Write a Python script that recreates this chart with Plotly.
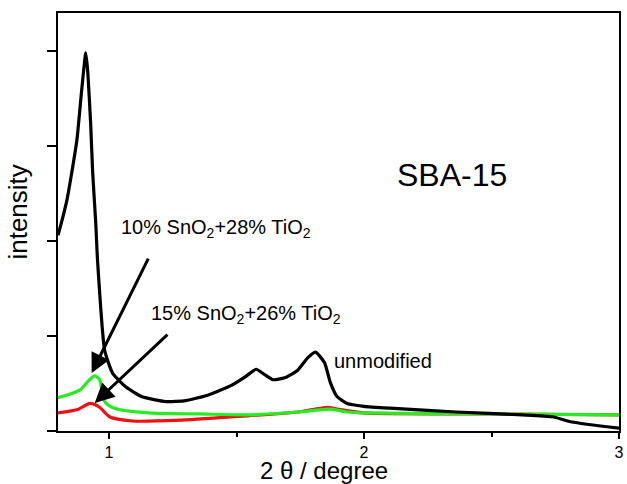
import plotly.graph_objects as go

# 2-theta (degree) and intensity (a.u.)
unmod_x = [0.800, 0.816, 0.835, 0.854, 0.874, 0.893, 0.909, 0.917, 0.928, 0.936,
           0.948, 0.955, 0.983, 1.014, 1.068, 1.130, 1.223, 1.301, 1.390, 1.480,
           1.534, 1.577, 1.612, 1.643, 1.689, 1.740, 1.779, 1.810, 1.845, 1.868,
           1.895, 1.934, 2.000, 2.101, 2.361, 2.621, 2.738, 2.815, 3.000]
unmod_y = [2.06, 2.22, 2.43, 2.72, 3.06, 3.59, 3.98, 3.77, 3.24, 2.72,
           2.19, 1.80, 0.85, 0.61, 0.46, 0.36, 0.31, 0.32, 0.38, 0.48,
           0.57, 0.65, 0.59, 0.54, 0.56, 0.64, 0.77, 0.83, 0.72, 0.51,
           0.36, 0.29, 0.26, 0.24, 0.20, 0.17, 0.15, 0.095, 0.03]

sn10_x = [0.800, 0.885, 0.920, 0.944, 0.963, 0.983, 1.021, 1.157, 1.351, 1.545,
          1.740, 1.868, 1.934, 2.000, 2.500, 3.000]
sn10_y = [0.35, 0.43, 0.53, 0.58, 0.54, 0.31, 0.24, 0.19, 0.18, 0.17,
          0.20, 0.23, 0.20, 0.19, 0.18, 0.17]

sn15_x = [0.800, 0.880, 0.926, 0.963, 1.002, 1.091, 1.285, 1.545, 1.740, 1.857,
          1.895, 2.000, 2.500, 3.000]
sn15_y = [0.19, 0.23, 0.29, 0.25, 0.15, 0.105, 0.115, 0.16, 0.20, 0.25,
          0.23, 0.19, 0.18, 0.17]

x_ticks = [1, 2, 3]
x_tick_labels = ["1", "2", "3"]
y_ticks = [0, 1, 2, 3, 4]

FONT = "Liberation Sans, Arial, sans-serif"

fig = go.Figure()
fig.add_trace(go.Scatter(x=sn15_x, y=sn15_y, mode="lines", name="15% SnO2+26% TiO2",
                         line=dict(color="#ee1111", width=3.2, shape="spline", smoothing=0.7)))
fig.add_trace(go.Scatter(x=sn10_x, y=sn10_y, mode="lines", name="10% SnO2+28% TiO2",
                         line=dict(color="#22ee22", width=3.2, shape="spline", smoothing=0.7)))
fig.add_trace(go.Scatter(x=unmod_x, y=unmod_y, mode="lines", name="unmodified",
                         line=dict(color="black", width=3.2, shape="spline", smoothing=0.5)))

fig.update_layout(
    width=627, height=484,
    margin=dict(l=58, r=3, t=13, b=53),
    paper_bgcolor="white", plot_bgcolor="white",
    showlegend=False,
    font=dict(family=FONT, color="black"),
    xaxis=dict(range=[0.8, 3.0], tickvals=x_ticks, ticktext=x_tick_labels,
               ticks="outside", ticklen=6, tickwidth=1.5, tickcolor="black",
               minor=dict(tickvals=[1.5, 2.5], ticks="outside", ticklen=4,
                          tickwidth=1.5, tickcolor="black"),
               showline=True, linecolor="black", linewidth=2, mirror=True,
               showgrid=False, zeroline=False, tickfont=dict(size=16, family=FONT)),
    yaxis=dict(range=[0, 4.4], tickvals=y_ticks, showticklabels=False,
               ticks="outside", ticklen=9, tickwidth=1.5, tickcolor="black",
               showline=True, linecolor="black", linewidth=2, mirror=True,
               showgrid=False, zeroline=False),
)

annots = [
    dict(text="10% SnO<sub>2</sub>+28% TiO<sub>2</sub>", x=1.041, y=2.13,
         xanchor="left", yanchor="middle", font=dict(size=20)),
    dict(text="15% SnO<sub>2</sub>+26% TiO<sub>2</sub>", x=1.157, y=1.23,
         xanchor="left", yanchor="middle", font=dict(size=20)),
    dict(text="SBA-15", x=2.12, y=2.69, xanchor="left", yanchor="middle",
         font=dict(size=32)),
    dict(text="unmodified", x=1.876, y=0.74, xanchor="left", yanchor="middle",
         font=dict(size=20)),
]
for a in annots:
    fig.add_annotation(xref="x", yref="y", showarrow=False, **a)

# arrows (tail -> tip)
fig.add_annotation(x=0.932, y=0.61, ax=1.157, ay=1.83, xref="x", yref="y",
                   axref="x", ayref="y", text="", showarrow=True,
                   arrowhead=2, arrowsize=1.3, arrowwidth=3, arrowcolor="black")
fig.add_annotation(x=0.944, y=0.295, ax=1.235, ay=1.03, xref="x", yref="y",
                   axref="x", ayref="y", text="", showarrow=True,
                   arrowhead=2, arrowsize=1.3, arrowwidth=3, arrowcolor="black")

# axis titles
fig.add_annotation(text="2 θ / degree", xref="paper", yref="paper",
                   x=(326 - 58) / 566, y=-0.095, xanchor="center", yanchor="middle",
                   showarrow=False, font=dict(size=24))
fig.add_annotation(text="intensity", xref="paper", yref="paper",
                   x=-0.072, y=0.524, xanchor="center", yanchor="middle",
                   textangle=-90, showarrow=False, font=dict(size=26))

fig.write_html("out.html")
